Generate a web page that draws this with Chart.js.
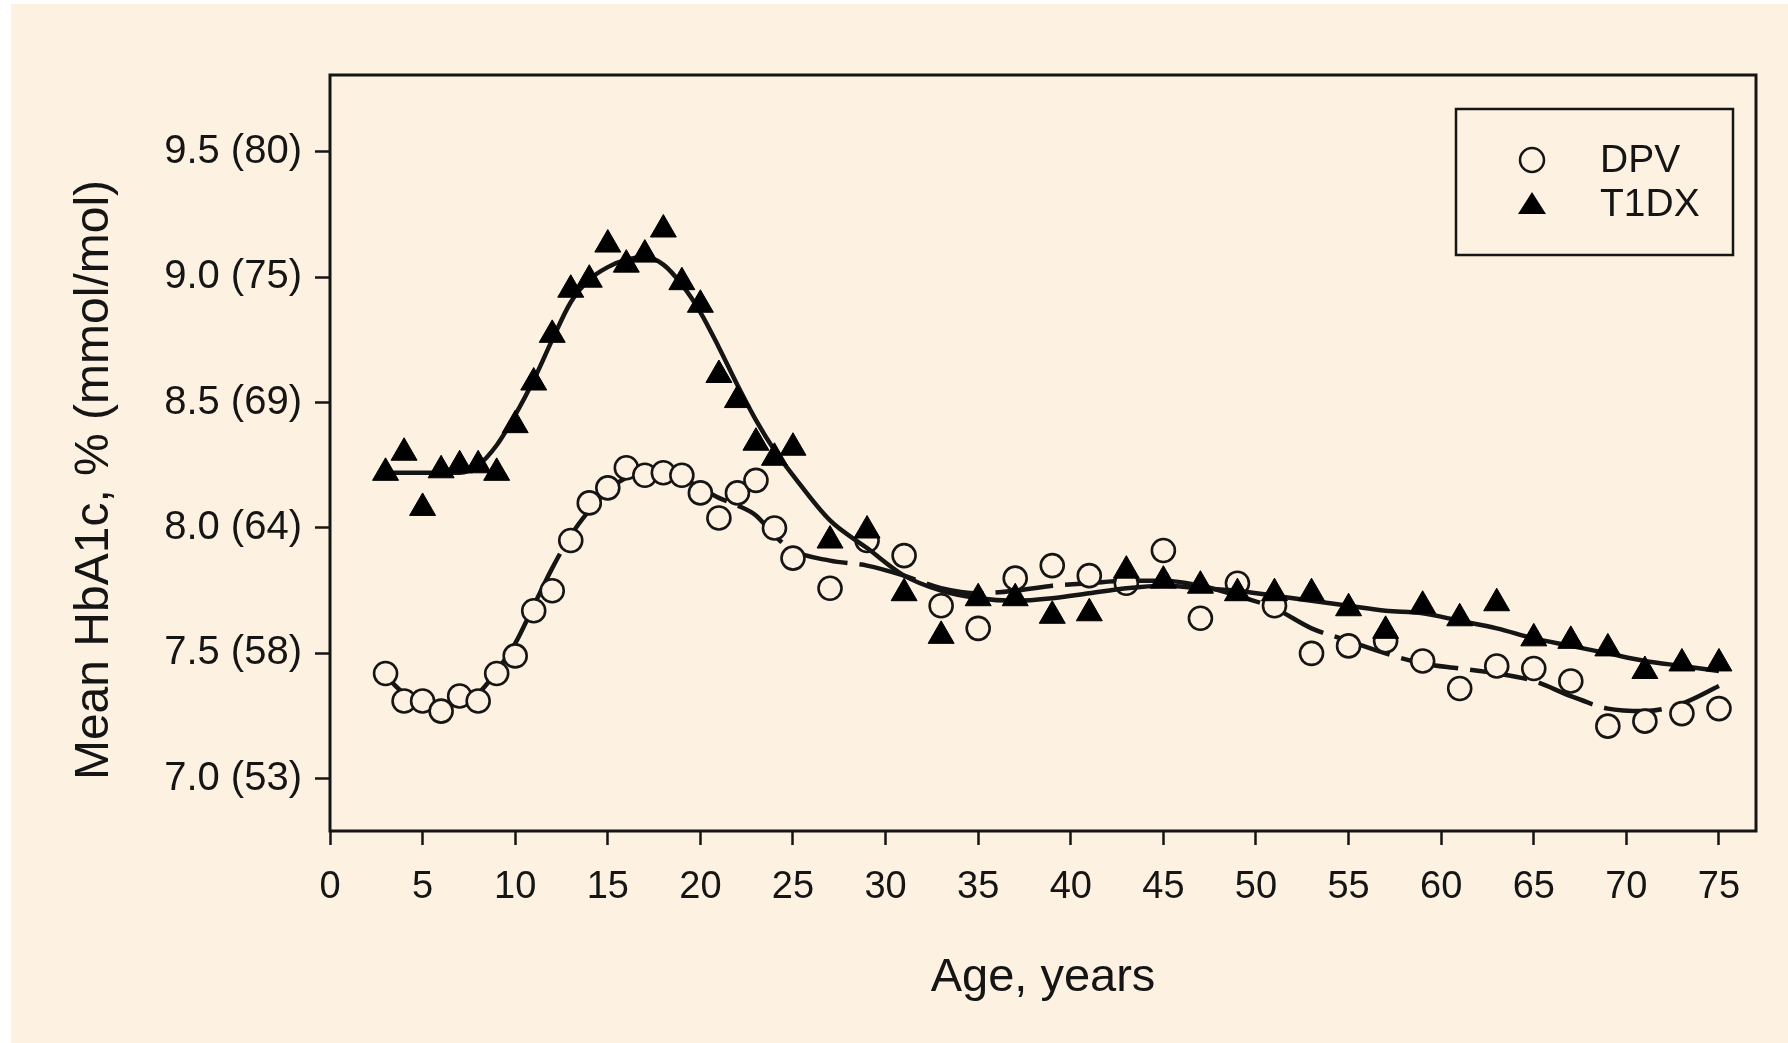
<!DOCTYPE html>
<html>
<head>
<meta charset="utf-8">
<script src="https://cdn.jsdelivr.net/npm/chart.js@4.4.1/dist/chart.umd.min.js"></script>
<style>
  html, body { margin: 0; padding: 0; background: #fff; }
  canvas { display: block; }
</style>
</head>
<body>
<canvas id="chart" width="1788" height="1043"></canvas>
<script>
// observed means, one point per age (yearly to 25, then every 2 years)
const ages = [3, 4, 5, 6, 7, 8, 9, 10, 11, 12, 13, 14, 15, 16, 17, 18, 19, 20, 21, 22, 23, 24, 25,
  27, 29, 31, 33, 35, 37, 39, 41, 43, 45, 47, 49, 51, 53, 55, 57, 59, 61, 63, 65, 67, 69, 71, 73, 75];

const dpvValues = [7.42, 7.31, 7.31, 7.27, 7.33, 7.31, 7.42, 7.49, 7.67, 7.75, 7.95, 8.10, 8.16, 8.24, 8.21, 8.22,
  8.21, 8.14, 8.04, 8.14, 8.19, 8.00, 7.88,
  7.76, 7.95, 7.89, 7.69, 7.60, 7.80, 7.85, 7.81, 7.78, 7.91, 7.64, 7.78, 7.69, 7.50, 7.53, 7.55, 7.47, 7.36,
  7.45, 7.44, 7.39, 7.21, 7.23, 7.26, 7.28];

const t1dxValues = [8.22, 8.30, 8.08, 8.23, 8.25, 8.25, 8.22, 8.41, 8.58, 8.77, 8.95, 8.99, 9.13, 9.05, 9.09, 9.19,
  8.98, 8.89, 8.61, 8.51, 8.34, 8.28, 8.32,
  7.95, 7.99, 7.74, 7.57, 7.72, 7.72, 7.65, 7.66, 7.83, 7.79, 7.77, 7.74, 7.74, 7.74, 7.68, 7.59, 7.69, 7.64,
  7.70, 7.56, 7.55, 7.52, 7.43, 7.46, 7.46];

// smoothed curves
const dpvFitAges = [3, 4, 5, 6, 7, 8, 9, 10, 11, 12, 13, 14, 15, 16, 17, 18, 19, 20, 21, 22, 23, 24, 25,
  27, 29, 31, 33, 35, 37, 39, 41, 43, 45, 47, 49, 51, 53, 55, 57, 59, 61, 63, 65, 67, 69, 71, 73, 75];
const dpvFitValues = [7.41, 7.34, 7.30, 7.29, 7.30, 7.34, 7.43, 7.54, 7.69, 7.84, 7.97, 8.07, 8.15, 8.20, 8.22, 8.22,
  8.20, 8.16, 8.12, 8.09, 8.05, 7.97, 7.91,
  7.87, 7.85, 7.81, 7.76, 7.74, 7.75, 7.77, 7.78, 7.79, 7.79, 7.77, 7.73, 7.68, 7.60, 7.55, 7.50, 7.46, 7.44,
  7.42, 7.39, 7.33, 7.28, 7.27, 7.30, 7.37];

const t1dxFitAges = [3, 5, 7, 8, 9, 10, 11, 12, 13, 14, 15, 16, 17, 18, 19, 20, 21, 22, 23, 24, 25,
  27, 29, 31, 33, 35, 37, 39, 41, 43, 45, 47, 49, 51, 53, 55, 57, 59, 61, 63, 65, 67, 69, 71, 73, 75];
const t1dxFitValues = [8.22, 8.22, 8.22, 8.25, 8.33, 8.45, 8.59, 8.75, 8.90, 8.99, 9.04, 9.07, 9.08, 9.05, 8.97, 8.86,
  8.72, 8.57, 8.43, 8.31, 8.21,
  8.03, 7.92, 7.81, 7.75, 7.72, 7.71, 7.72, 7.74, 7.76, 7.77, 7.76, 7.75, 7.73, 7.71, 7.69, 7.67, 7.66, 7.63,
  7.60, 7.56, 7.53, 7.50, 7.47, 7.45, 7.43];

const xTickValues = [0, 5, 10, 15, 20, 25, 30, 35, 40, 45, 50, 55, 60, 65, 70, 75];
const yTickValues = [7.0, 7.5, 8.0, 8.5, 9.0, 9.5];
const yTickLabels = ['7.0 (53)', '7.5 (58)', '8.0 (64)', '8.5 (69)', '9.0 (75)', '9.5 (80)'];
const seriesNames = ['DPV', 'T1DX'];

const CREAM = '#fdf2e1';
const INK = '#151515';
const FONT = "'Liberation Sans', Arial, sans-serif";

const toPoints = (xs, ys) => xs.map((x, i) => ({ x, y: ys[i] }));

const paperPlugin = {
  id: 'paper',
  beforeDraw(chart) {
    const { ctx, width, height } = chart;
    ctx.save();
    ctx.fillStyle = '#ffffff';
    ctx.fillRect(0, 0, width, height);
    ctx.fillStyle = CREAM;
    ctx.fillRect(11, 4, width - 11, height - 4);
    ctx.restore();
  },
};

const framePlugin = {
  id: 'frame',
  afterDraw(chart) {
    const { ctx, chartArea: { left, top, right, bottom } } = chart;
    ctx.save();
    ctx.strokeStyle = INK;
    ctx.lineWidth = 3;
    ctx.strokeRect(left, top, right - left, bottom - top);

    // y axis title
    ctx.translate(95, 480);
    ctx.rotate(-Math.PI / 2);
    ctx.font = `48px ${FONT}`;
    ctx.fillStyle = INK;
    ctx.textAlign = 'center';
    ctx.textBaseline = 'middle';
    ctx.fillText('Mean HbA1c, % (mmol/mol)', 0, 0);
    ctx.restore();
  },
};

const legendPlugin = {
  id: 'boxLegend',
  afterDraw(chart) {
    const { ctx } = chart;
    ctx.save();
    ctx.strokeStyle = INK;
    ctx.lineWidth = 2.5;
    ctx.strokeRect(1456, 109, 277, 146);

    // circle marker
    ctx.beginPath();
    ctx.arc(1532, 160, 12, 0, Math.PI * 2);
    ctx.fillStyle = CREAM;
    ctx.fill();
    ctx.lineWidth = 2.5;
    ctx.stroke();

    // triangle marker
    ctx.beginPath();
    ctx.moveTo(1532, 192);
    ctx.lineTo(1546, 214);
    ctx.lineTo(1518, 214);
    ctx.closePath();
    ctx.fillStyle = '#000';
    ctx.fill();

    ctx.font = `39px ${FONT}`;
    ctx.fillStyle = INK;
    ctx.textAlign = 'left';
    ctx.textBaseline = 'middle';
    ctx.fillText(seriesNames[0], 1600, 161);
    ctx.fillText(seriesNames[1], 1600, 205);
    ctx.restore();
  },
};

const ctx = document.getElementById('chart').getContext('2d');
new Chart(ctx, {
  type: 'scatter',
  data: {
    datasets: [
      {
        label: 'T1DX',
        data: toPoints(ages, t1dxValues),
        pointStyle: 'triangle',
        pointRadius: 15,
        pointBackgroundColor: '#000',
        pointBorderColor: '#000',
        pointBorderWidth: 1,
        showLine: false,
        order: 1,
      },
      {
        label: 'T1DX fit',
        data: toPoints(t1dxFitAges, t1dxFitValues),
        showLine: true,
        borderColor: INK,
        borderWidth: 4.5,
        pointRadius: 0,
        cubicInterpolationMode: 'monotone',
        order: 2,
      },
      {
        label: 'DPV',
        data: toPoints(ages, dpvValues),
        pointStyle: 'circle',
        pointRadius: 11.5,
        pointBackgroundColor: CREAM,
        pointBorderColor: INK,
        pointBorderWidth: 2.6,
        showLine: false,
        order: 3,
      },
      {
        label: 'DPV fit',
        data: toPoints(dpvFitAges, dpvFitValues),
        showLine: true,
        borderColor: INK,
        borderWidth: 4.5,
        borderDash: [58, 12],
        pointRadius: 0,
        cubicInterpolationMode: 'monotone',
        order: 4,
      },
    ],
  },
  options: {
    responsive: false,
    animation: false,
    devicePixelRatio: 1,
    layout: { padding: { left: 0, right: 32, top: 75, bottom: 0 } },
    plugins: {
      legend: { display: false },
      tooltip: { enabled: false },
    },
    scales: {
      x: {
        type: 'linear',
        min: 0,
        max: 77,
        border: { display: false },
        grid: { drawOnChartArea: false, drawTicks: true, tickLength: 14, tickWidth: 2.5, tickColor: INK },
        afterBuildTicks: (scale) => { scale.ticks = xTickValues.map((value) => ({ value })); },
        afterFit: (scale) => { scale.height = 212; },
        ticks: {
          padding: 20,
          color: INK,
          font: { family: FONT, size: 38 },
          maxRotation: 0,
          autoSkip: false,
        },
        title: {
          display: true,
          text: 'Age, years',
          color: INK,
          font: { family: FONT, size: 47 },
          padding: { top: 0, bottom: 37 },
        },
      },
      y: {
        type: 'linear',
        min: 6.792,
        max: 9.806,
        border: { display: false },
        grid: { drawOnChartArea: false, drawTicks: true, tickLength: 15, tickWidth: 2.5, tickColor: INK },
        afterBuildTicks: (scale) => { scale.ticks = yTickValues.map((value) => ({ value })); },
        afterFit: (scale) => { scale.width = 330; },
        ticks: {
          padding: 13,
          color: INK,
          font: { family: FONT, size: 40 },
          autoSkip: false,
          callback: (value) => {
            const i = yTickValues.findIndex((v) => Math.abs(v - value) < 1e-6);
            return i >= 0 ? yTickLabels[i] : '';
          },
        },
      },
    },
  },
  plugins: [paperPlugin, framePlugin, legendPlugin],
});
</script>
</body>
</html>
